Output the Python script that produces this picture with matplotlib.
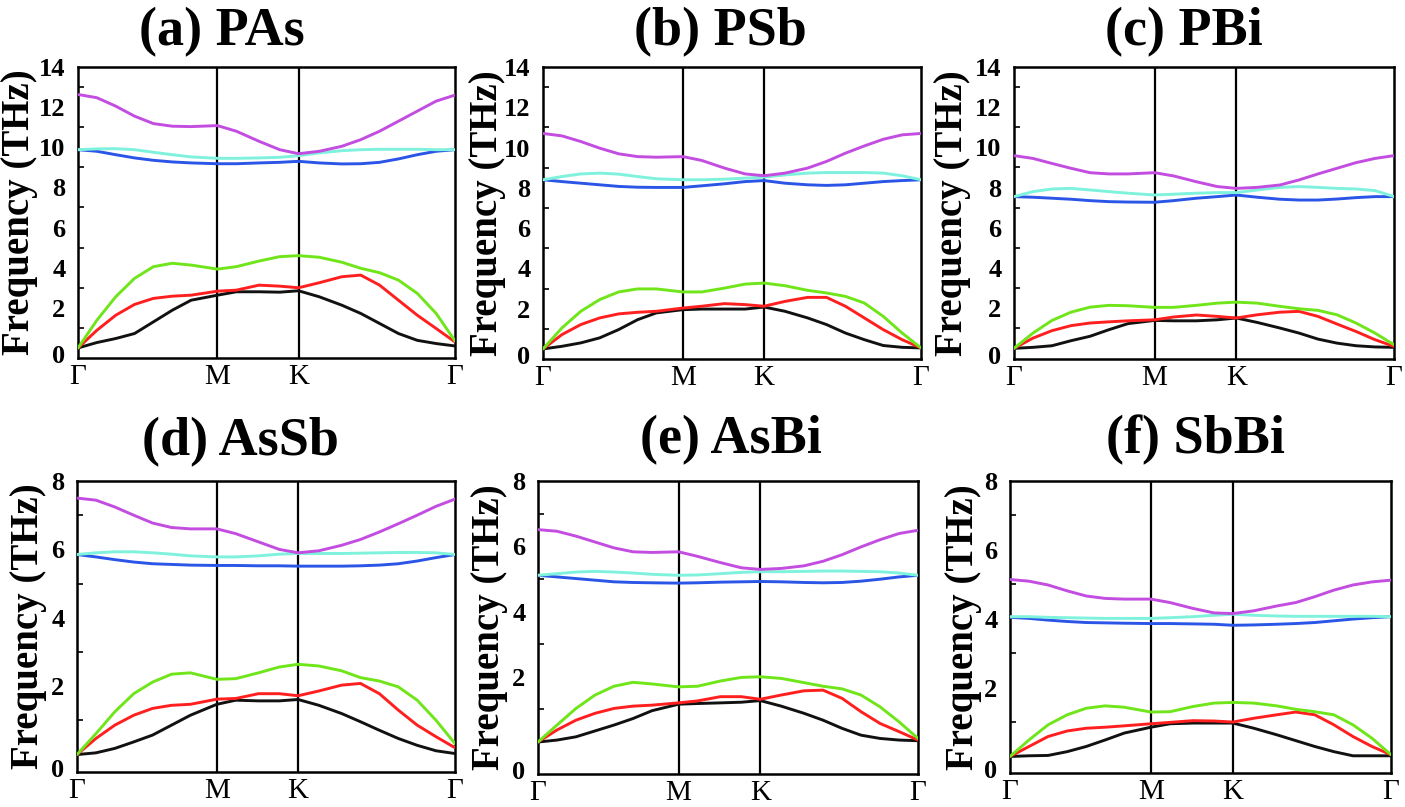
import matplotlib
matplotlib.use("Agg")
import matplotlib.pyplot as plt
from matplotlib.ticker import FixedLocator

# ---------------- data ----------------
# positions along the path (fraction of the Γ-M-K-Γ path)
path_x = [0, 0.05, 0.10, 0.15, 0.20, 0.25, 0.30, 0.37, 0.42, 0.48, 0.535,
          0.585, 0.64, 0.70, 0.75, 0.80, 0.85, 0.90, 0.95, 1.0]
sym_pos = [0, 0.37, 0.585, 1.0]
sym_labels = ["Γ", "M", "K", "Γ"]

titles = ["(a) PAs", "(b) PSb", "(c) PBi", "(d) AsSb", "(e) AsBi", "(f) SbBi"]

# PAs
pas_purple = [12.63, 12.47, 12.05, 11.55, 11.18, 11.05, 11.03, 11.08, 10.8, 10.3, 9.88, 9.68, 9.8, 10.05, 10.38, 10.8, 11.3, 11.8, 12.3, 12.6]
pas_cyan = [9.88, 9.92, 9.93, 9.88, 9.75, 9.63, 9.52, 9.45, 9.45, 9.47, 9.5, 9.58, 9.72, 9.83, 9.88, 9.9, 9.9, 9.9, 9.88, 9.88]
pas_blue = [9.88, 9.8, 9.63, 9.47, 9.35, 9.27, 9.22, 9.18, 9.18, 9.22, 9.25, 9.3, 9.22, 9.17, 9.18, 9.25, 9.42, 9.63, 9.8, 9.88]
pas_green = [0.0, 1.38, 2.55, 3.47, 4.05, 4.22, 4.13, 3.93, 4.05, 4.33, 4.55, 4.6, 4.52, 4.27, 3.97, 3.75, 3.38, 2.72, 1.72, 0.35]
pas_red = [0.0, 0.88, 1.63, 2.17, 2.47, 2.58, 2.63, 2.83, 2.88, 3.13, 3.08, 3.0, 3.25, 3.55, 3.63, 3.13, 2.38, 1.63, 0.97, 0.3]
pas_black = [0.0, 0.27, 0.47, 0.72, 1.3, 1.88, 2.38, 2.63, 2.8, 2.8, 2.78, 2.85, 2.55, 2.13, 1.72, 1.22, 0.72, 0.38, 0.22, 0.1]

# PSb
psb_purple = [10.7, 10.58, 10.3, 9.97, 9.69, 9.55, 9.52, 9.55, 9.36, 8.98, 8.69, 8.6, 8.73, 8.98, 9.31, 9.72, 10.08, 10.41, 10.63, 10.7]
psb_cyan = [8.4, 8.56, 8.69, 8.73, 8.68, 8.56, 8.45, 8.4, 8.4, 8.43, 8.48, 8.53, 8.64, 8.73, 8.76, 8.76, 8.76, 8.73, 8.6, 8.4]
psb_blue = [8.4, 8.31, 8.23, 8.15, 8.07, 8.03, 8.02, 8.02, 8.1, 8.2, 8.31, 8.36, 8.23, 8.15, 8.12, 8.15, 8.23, 8.31, 8.36, 8.4]
psb_green = [0.0, 1.04, 1.87, 2.45, 2.83, 2.98, 2.98, 2.83, 2.83, 3.02, 3.22, 3.27, 3.14, 2.91, 2.78, 2.61, 2.28, 1.62, 0.79, 0.05]
psb_red = [0.0, 0.71, 1.21, 1.54, 1.74, 1.82, 1.87, 2.03, 2.12, 2.25, 2.2, 2.12, 2.36, 2.56, 2.56, 2.12, 1.54, 0.96, 0.46, 0.05]
psb_black = [0.0, 0.13, 0.3, 0.55, 0.96, 1.45, 1.79, 1.95, 1.98, 1.98, 1.98, 2.08, 1.87, 1.54, 1.21, 0.79, 0.46, 0.17, 0.08, 0.05]

# PBi
pbi_purple = [9.59, 9.45, 9.2, 8.96, 8.74, 8.68, 8.68, 8.74, 8.58, 8.29, 8.05, 7.96, 8.01, 8.13, 8.38, 8.68, 8.96, 9.24, 9.45, 9.59]
pbi_cyan = [7.55, 7.8, 7.93, 7.96, 7.88, 7.8, 7.72, 7.63, 7.67, 7.72, 7.75, 7.75, 7.88, 8.01, 8.05, 8.01, 7.96, 7.93, 7.85, 7.55]
pbi_blue = [7.55, 7.52, 7.47, 7.42, 7.35, 7.3, 7.28, 7.27, 7.35, 7.47, 7.55, 7.63, 7.52, 7.42, 7.38, 7.38, 7.43, 7.5, 7.55, 7.55]
pbi_green = [0.0, 0.76, 1.39, 1.8, 2.05, 2.14, 2.12, 2.04, 2.04, 2.14, 2.25, 2.3, 2.25, 2.09, 1.97, 1.89, 1.67, 1.26, 0.76, 0.18]
pbi_red = [0.0, 0.51, 0.88, 1.13, 1.26, 1.32, 1.37, 1.42, 1.56, 1.66, 1.59, 1.51, 1.67, 1.8, 1.84, 1.59, 1.21, 0.84, 0.43, 0.1]
pbi_black = [0.0, 0.05, 0.13, 0.38, 0.6, 0.93, 1.23, 1.39, 1.37, 1.37, 1.42, 1.51, 1.29, 1.01, 0.76, 0.46, 0.26, 0.13, 0.07, 0.05]

# AsSb
assb_purple = [7.5, 7.44, 7.24, 7.0, 6.77, 6.64, 6.6, 6.6, 6.46, 6.22, 6.0, 5.9, 5.96, 6.12, 6.29, 6.51, 6.75, 7.0, 7.26, 7.47]
assb_cyan = [5.85, 5.9, 5.93, 5.93, 5.9, 5.86, 5.81, 5.78, 5.78, 5.81, 5.86, 5.88, 5.88, 5.88, 5.89, 5.9, 5.91, 5.91, 5.9, 5.85]
assb_blue = [5.85, 5.78, 5.7, 5.63, 5.58, 5.56, 5.54, 5.53, 5.53, 5.52, 5.52, 5.51, 5.51, 5.51, 5.52, 5.54, 5.58, 5.66, 5.76, 5.85]
assb_green = [0.0, 0.61, 1.25, 1.78, 2.12, 2.35, 2.39, 2.2, 2.22, 2.39, 2.56, 2.64, 2.59, 2.45, 2.25, 2.15, 1.98, 1.59, 1.0, 0.32]
assb_red = [0.0, 0.47, 0.86, 1.15, 1.35, 1.44, 1.47, 1.62, 1.64, 1.78, 1.78, 1.72, 1.86, 2.03, 2.08, 1.78, 1.3, 0.86, 0.52, 0.2]
assb_black = [0.0, 0.05, 0.18, 0.37, 0.57, 0.86, 1.15, 1.47, 1.59, 1.57, 1.57, 1.61, 1.44, 1.2, 0.96, 0.71, 0.47, 0.27, 0.11, 0.03]

# AsBi
asbi_purple = [6.51, 6.46, 6.31, 6.13, 5.95, 5.83, 5.81, 5.83, 5.69, 5.5, 5.34, 5.29, 5.32, 5.4, 5.54, 5.74, 5.98, 6.2, 6.39, 6.49]
asbi_cyan = [5.11, 5.16, 5.21, 5.23, 5.21, 5.18, 5.14, 5.11, 5.12, 5.16, 5.2, 5.22, 5.22, 5.23, 5.24, 5.24, 5.23, 5.22, 5.18, 5.11]
asbi_blue = [5.11, 5.06, 5.01, 4.96, 4.91, 4.89, 4.88, 4.87, 4.88, 4.9, 4.91, 4.92, 4.91, 4.89, 4.88, 4.89, 4.93, 4.99, 5.06, 5.11]
asbi_green = [0.0, 0.52, 1.03, 1.44, 1.71, 1.83, 1.78, 1.69, 1.71, 1.87, 1.98, 2.0, 1.95, 1.82, 1.71, 1.63, 1.44, 1.08, 0.62, 0.11]
asbi_red = [0.0, 0.37, 0.67, 0.88, 1.03, 1.1, 1.13, 1.2, 1.26, 1.39, 1.39, 1.31, 1.44, 1.57, 1.59, 1.34, 0.93, 0.57, 0.32, 0.06]
asbi_black = [0.0, 0.06, 0.16, 0.34, 0.52, 0.72, 0.96, 1.16, 1.18, 1.2, 1.22, 1.27, 1.1, 0.88, 0.67, 0.42, 0.21, 0.11, 0.06, 0.04]

# SbBi
sbbi_purple = [5.14, 5.09, 4.98, 4.81, 4.66, 4.59, 4.57, 4.57, 4.47, 4.3, 4.17, 4.15, 4.23, 4.37, 4.47, 4.64, 4.83, 4.98, 5.07, 5.12]
sbbi_cyan = [4.06, 4.06, 4.04, 4.03, 4.02, 4.01, 4.01, 4.01, 4.03, 4.06, 4.1, 4.13, 4.1, 4.08, 4.07, 4.07, 4.07, 4.07, 4.07, 4.06]
sbbi_blue = [4.04, 4.01, 3.96, 3.92, 3.89, 3.88, 3.87, 3.86, 3.86, 3.85, 3.84, 3.81, 3.82, 3.84, 3.86, 3.89, 3.94, 3.99, 4.03, 4.06]
sbbi_green = [0.0, 0.48, 0.92, 1.21, 1.4, 1.47, 1.43, 1.29, 1.3, 1.45, 1.55, 1.57, 1.55, 1.47, 1.37, 1.3, 1.21, 0.92, 0.53, 0.05]
sbbi_red = [0.0, 0.29, 0.58, 0.74, 0.82, 0.85, 0.89, 0.95, 0.99, 1.04, 1.03, 1.0, 1.11, 1.21, 1.29, 1.21, 0.92, 0.58, 0.29, 0.05]
sbbi_black = [0.0, 0.02, 0.03, 0.14, 0.29, 0.48, 0.68, 0.85, 0.95, 0.97, 0.97, 0.97, 0.82, 0.63, 0.46, 0.29, 0.14, 0.02, 0.02, 0.02]

panels_data = [
    [pas_black, pas_red, pas_green, pas_blue, pas_cyan, pas_purple],
    [psb_black, psb_red, psb_green, psb_blue, psb_cyan, psb_purple],
    [pbi_black, pbi_red, pbi_green, pbi_blue, pbi_cyan, pbi_purple],
    [assb_black, assb_red, assb_green, assb_blue, assb_cyan, assb_purple],
    [asbi_black, asbi_red, asbi_green, asbi_blue, asbi_cyan, asbi_purple],
    [sbbi_black, sbbi_red, sbbi_green, sbbi_blue, sbbi_cyan, sbbi_purple],
]
branch_colors = ["#111111", "#FF1F1F", "#6FE51A", "#2A55E6", "#7EF2DC", "#C24DE0"]

ylims = [(-0.5, 14), (-0.5, 14), (-0.53, 14), (-0.51, 8), (-0.98, 8), (-0.48, 8)]

# ---------------- layout ----------------
W, H = 1405, 807
# axes boxes in pixels: left, top, right, bottom
boxes = [(78, 67, 455, 358), (543, 67, 921, 359), (1014, 67, 1394, 359),
         (77, 481, 455, 772), (538, 481, 918, 774), (1010, 481, 1391, 773)]
title_pos = [(222, 45), (720, 45), (1184, 45), (240, 455), (731, 453), (1195, 453)]
ylabel_x = [20, 487, 953, 29, 489, 963]

serif = "Liberation Serif"
fig = plt.figure(figsize=(W / 100, H / 100), dpi=100)

for i in range(6):
    l, t, r, b = boxes[i]
    ax = fig.add_axes([l / W, 1 - b / H, (r - l) / W, (b - t) / H])
    for ys, c in zip(panels_data[i], branch_colors):
        ax.plot(path_x, ys, color=c, lw=2.1, solid_joinstyle="round",
                solid_capstyle="round", zorder=3)
    for xv in sym_pos[1:3]:
        ax.axvline(xv, color="black", lw=1.6, zorder=2)
    ax.set_xlim(0, 1)
    y0, y1 = ylims[i]
    ax.set_ylim(y0, y1)
    top = int(round(y1))
    step = 2
    # the "0" label in the original sits at the bottom of the frame
    px_per_unit = (b - t) / (y1 - y0)
    zero_label_y = y0 + 4 / px_per_unit
    ticks = [zero_label_y] + list(range(2, top + 1, step))
    labels = ["0"] + [str(v) for v in range(2, top + 1, step)]
    ax.set_yticks(ticks)
    ax.set_yticklabels(labels)
    ax.yaxis.set_minor_locator(FixedLocator(list(range(1, top, 2))))
    ax.tick_params(axis="y", which="major", length=0, pad=9)
    ax.tick_params(axis="y", which="minor", length=4, width=1.2, direction="in")
    for lab in ax.get_yticklabels():
        lab.set_fontfamily(serif)
        lab.set_fontweight("bold")
        lab.set_fontsize(19)
    ax.set_xticks(sym_pos)
    ax.set_xticklabels(sym_labels)
    ax.tick_params(axis="x", length=0, pad=4)
    for lab in ax.get_xticklabels():
        lab.set_fontfamily(serif)
        lab.set_fontsize(21)
    for sp in ax.spines.values():
        sp.set_linewidth(1.8)
        sp.set_color("black")

    fig.text(title_pos[i][0] / W, 1 - title_pos[i][1] / H, titles[i],
             ha="center", va="baseline", fontsize=39, fontweight="bold",
             family=serif)
    fig.text(ylabel_x[i] / W, 1 - ((t + b) / 2) / H, "Frequency (THz)",
             rotation=90, ha="center", va="center", fontsize=28,
             fontweight="bold", family=serif)

fig.savefig("out.png", dpi=100)
